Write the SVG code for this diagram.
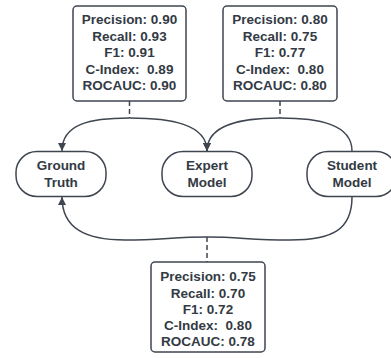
<svg xmlns="http://www.w3.org/2000/svg" width="391" height="358" viewBox="0 0 391 358">
<style>
.box{fill:#fff;stroke:#3f4650;stroke-width:1.5}
.t{font-family:"Liberation Sans",Arial,sans-serif;font-weight:bold;font-size:13.5px;fill:#333a44;text-anchor:middle;white-space:pre}
.c{fill:none;stroke:#3f4650;stroke-width:1.5}
.d{fill:none;stroke:#3f4650;stroke-width:1.5;stroke-dasharray:5,3}
</style>
<defs>
<marker id="ah" viewBox="0 0 10 10" refX="10" refY="5" markerWidth="8" markerHeight="8" markerUnits="userSpaceOnUse" orient="auto">
<path d="M0,0 L10,5 L0,10 z" fill="#3f4650"/>
</marker>
</defs>
<rect width="391" height="358" fill="#fff"/>
<g id="connectors">
<path class="d" d="M129.5,101 V118"/>
<path class="c" d="M129.5,118 C90,118 62,124 62,151" marker-end="url(#ah)"/>
<path class="c" d="M129.5,118 C170,118 207,124 207,151" marker-end="url(#ah)"/>
<path class="d" d="M280,101 V118"/>
<path class="c" d="M280,118 C242,118 207,124 207,151" marker-end="url(#ah)"/>
<path class="c" d="M280,118 C318,118 352,124 352,151"/>
<path class="c" d="M352,197 C352,230 332,240 290,240 C250,240 240,237 207,237 C175,237 160,240 125,240 C85,240 62,228 62,197" marker-end="url(#ah)"/>
<path class="d" d="M207,237 V262"/>
</g>
<g id="metrics-expert">
<rect class="box" x="73" y="6" width="113" height="95" rx="4"/>
<text class="t" x="129.5" y="24">Precision: 0.90</text>
<text class="t" x="129.5" y="40.5">Recall: 0.93</text>
<text class="t" x="129.5" y="57">F1: 0.91</text>
<text class="t" x="129.5" y="73.5">C-Index:  0.89</text>
<text class="t" x="129.5" y="90">ROCAUC: 0.90</text>
</g>
<g id="metrics-student">
<rect class="box" x="223" y="6" width="114" height="95" rx="4"/>
<text class="t" x="280" y="24">Precision: 0.80</text>
<text class="t" x="280" y="40.5">Recall: 0.75</text>
<text class="t" x="280" y="57">F1: 0.77</text>
<text class="t" x="280" y="73.5">C-Index:  0.80</text>
<text class="t" x="280" y="90">ROCAUC: 0.80</text>
</g>
<g id="metrics-ground">
<rect class="box" x="151" y="262" width="114" height="90" rx="4"/>
<text class="t" x="208" y="281">Precision: 0.75</text>
<text class="t" x="208" y="297.5">Recall: 0.70</text>
<text class="t" x="208" y="314">F1: 0.72</text>
<text class="t" x="208" y="330">C-Index:  0.80</text>
<text class="t" x="208" y="346">ROCAUC: 0.78</text>
</g>
<g id="ground-truth">
<rect class="box" x="16" y="151.5" width="90" height="45" rx="21"/>
<text class="t" x="61" y="170">Ground</text>
<text class="t" x="61" y="186.5">Truth</text>
</g>
<g id="expert-model">
<rect class="box" x="162" y="151.5" width="90" height="45" rx="21"/>
<text class="t" x="207" y="170">Expert</text>
<text class="t" x="207" y="186.5">Model</text>
</g>
<g id="student-model">
<rect class="box" x="307" y="151.5" width="90" height="45" rx="21"/>
<text class="t" x="352" y="170">Student</text>
<text class="t" x="352" y="186.5">Model</text>
</g>
</svg>
